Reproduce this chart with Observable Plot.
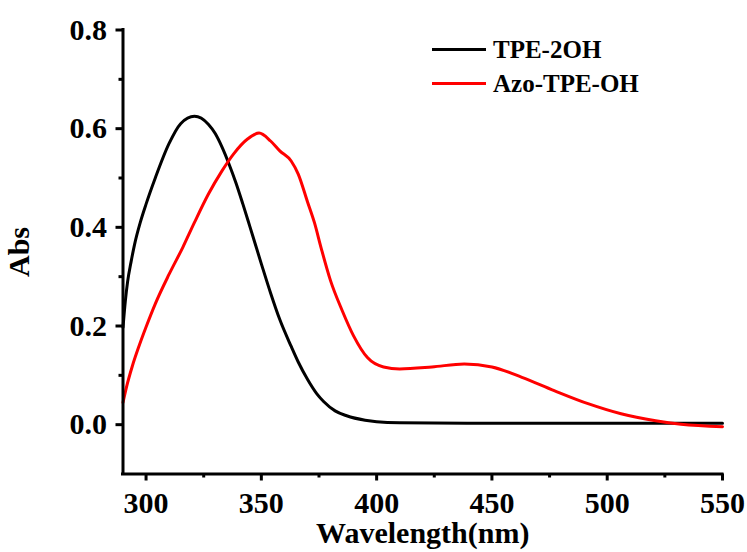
<!DOCTYPE html>
<html>
<head>
<meta charset="utf-8">
<script src="https://cdn.jsdelivr.net/npm/d3@7"></script>
<script src="https://cdn.jsdelivr.net/npm/@observablehq/plot@0.6"></script>
<style>
  html, body { margin: 0; padding: 0; background: #fff; }
  #wrap { position: relative; width: 747px; height: 552px; font-family: 'Liberation Serif', 'Times New Roman', serif; font-weight: bold; }
  .leg-row { position: absolute; left: 432px; height: 33px; width: 260px; }
  .leg-line { position: absolute; left: 0; top: 15px; width: 54px; height: 3px; }
  .leg-text { position: absolute; left: 61px; top: 0; font-size: 25px; line-height: 33px; color: #000; white-space: nowrap; }
</style>
</head>
<body>
<div id="wrap"></div>
<script>
// Series names and colours
const seriesNames = ["TPE-2OH", "Azo-TPE-OH"];
const seriesColors = ["#000000", "#ff0000"];

// TPE-2OH (black)
const wlTPE2OH = [290, 291, 292, 293.5, 295, 297.5, 300, 304, 310, 315, 321, 327, 330, 333, 336, 339, 342, 345, 350, 354, 358, 363, 366, 370, 374, 377, 382, 387, 395, 400, 410, 450, 500, 550];
const absTPE2OH = [0.197, 0.25, 0.29, 0.33, 0.365, 0.41, 0.447, 0.50, 0.57, 0.61, 0.625, 0.609, 0.59, 0.562, 0.528, 0.49, 0.447, 0.402, 0.326, 0.267, 0.213, 0.158, 0.127, 0.092, 0.063, 0.047, 0.028, 0.018, 0.009, 0.006, 0.004, 0.003, 0.003, 0.003];

// Azo-TPE-OH (red)
const wlAzo = [290, 292, 294, 297, 300, 304, 310, 316, 321, 327, 333, 338, 344, 349, 354, 358, 363, 366, 370, 373, 376, 380, 385, 390, 396, 403, 410, 424, 438, 450, 463, 477, 492, 506, 521, 532, 550];
const absAzo = [0.045, 0.085, 0.118, 0.16, 0.198, 0.245, 0.305, 0.36, 0.41, 0.467, 0.515, 0.549, 0.579, 0.591, 0.575, 0.555, 0.534, 0.508, 0.452, 0.41, 0.357, 0.292, 0.232, 0.18, 0.136, 0.117, 0.113, 0.117, 0.123, 0.117, 0.096, 0.069, 0.042, 0.022, 0.008, 0.001, -0.004];

// Axis ticks
const xMajorTicks = [300, 350, 400, 450, 500, 550];
const xMinorTicks = [325, 375, 425, 475, 525];
const yMajorTicks = [0.0, 0.2, 0.4, 0.6, 0.8];
const yMinorTicks = [0.1, 0.3, 0.5, 0.7];
const xDomain = [290, 550];
const yDomain = [-0.1, 0.8];
const xLabel = "Wavelength(nm)";
const yLabel = "Abs";

const rows = [
  ...wlTPE2OH.map((w, i) => ({series: seriesNames[0], wl: w, abs: absTPE2OH[i]})),
  ...wlAzo.map((w, i) => ({series: seriesNames[1], wl: w, abs: absAzo[i]}))
];

const fontSize = 30;

const chart = Plot.plot({
  width: 747,
  height: 552,
  marginLeft: 122.5,
  marginRight: 25,
  marginTop: 29.5,
  marginBottom: 78.5,
  style: {
    fontFamily: "'Liberation Serif', 'Times New Roman', serif",
    fontWeight: "bold",
    fontSize: fontSize + "px",
    color: "#000",
    background: "#fff",
    overflow: "visible"
  },
  x: {domain: xDomain},
  y: {domain: yDomain},
  color: {domain: seriesNames, range: seriesColors},
  marks: [
    Plot.line(rows, {x: "wl", y: "abs", z: "series", stroke: "series", strokeWidth: 3, curve: "monotone-x"}),
    Plot.ruleX([xDomain[0]], {stroke: "#000", strokeWidth: 3, strokeLinecap: "square"}),
    Plot.ruleY([yDomain[0]], {stroke: "#000", strokeWidth: 3, strokeLinecap: "square"}),
    Plot.axisX({
      ticks: xMajorTicks, tickSize: 7, tickPadding: 11, strokeWidth: 3,
      fontSize, fontWeight: "bold",
      label: xLabel, labelAnchor: "center", labelArrow: "none", labelOffset: 69
    }),
    Plot.axisX({ticks: xMinorTicks, tickSize: 4, strokeWidth: 3, tickFormat: () => "", label: null}),
    Plot.axisY({
      ticks: yMajorTicks, tickSize: 7, tickPadding: 9, strokeWidth: 3,
      tickFormat: d3.format(".1f"),
      fontSize, fontWeight: "bold",
      label: yLabel, labelAnchor: "center", labelArrow: "none", labelOffset: 115
    }),
    Plot.axisY({ticks: yMinorTicks, tickSize: 4, strokeWidth: 3, tickFormat: () => "", label: null})
  ]
});

const wrap = document.getElementById("wrap");
wrap.appendChild(chart);

seriesNames.forEach((name, i) => {
  const row = document.createElement("div");
  row.className = "leg-row";
  row.style.top = (33.4 + 33.3 * i) + "px";
  const line = document.createElement("div");
  line.className = "leg-line";
  line.style.background = seriesColors[i];
  const text = document.createElement("div");
  text.className = "leg-text";
  text.textContent = name;
  row.appendChild(line);
  row.appendChild(text);
  wrap.appendChild(row);
});
</script>
</body>
</html>
